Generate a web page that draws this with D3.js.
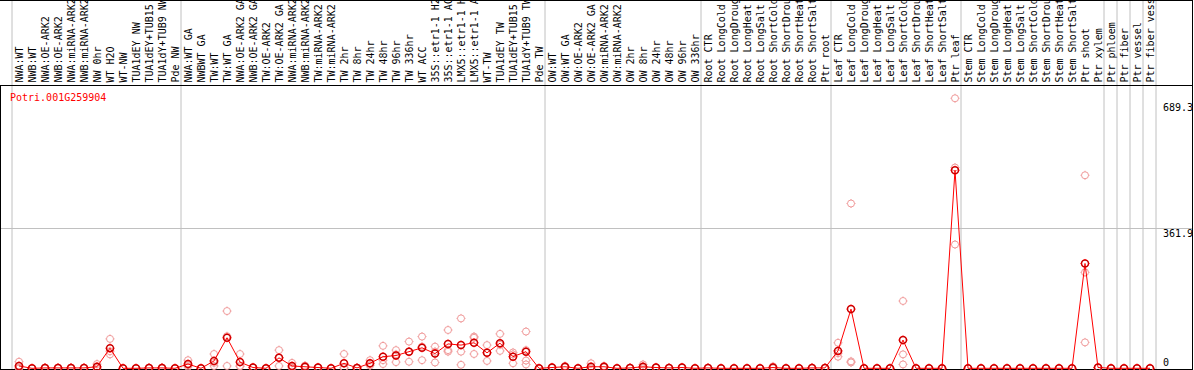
<!DOCTYPE html>
<html>
<head>
<meta charset="utf-8">
<script src="https://cdn.jsdelivr.net/npm/d3@7"></script>
<style>
  body { margin: 0; background: #fff; }
  svg { display: block; }
  text { font-family: "DejaVu Sans Mono", monospace; font-size: 10px; }
</style>
</head>
<body>
<svg id="chart"></svg>
<script>
var width = 1194;
var height = 370;

// sample names (as printed, cut to 14 chars)
var labels = [
  "NWA:WT", "NWB:WT", "NWA:OE-ARK2", "NWB:OE-ARK2", "NWA:miRNA-ARK2", "NWB:miRNA-ARK2",
  "NW 0hr", "WT H2O", "WT-NW", "TUA1dEY NW", "TUA1dEY+TUB15", "TUA1dY+TUB9 NW", "Pde NW",
  "NWA:WT GA", "NWBWT GA", "TW:WT", "TW:WT GA", "NWA:OE-ARK2 GA", "NWB:OE-ARK2 GA",
  "TW:OE-ARK2", "TW:OE-ARK2 GA", "NWA:miRNA-ARK2", "NWB:miRNA-ARK2", "TW:miRNA-ARK2", "TW:miRNA-ARK2",
  "TW 2hr", "TW 8hr", "TW 24hr", "TW 48hr", "TW 96hr", "TW 336hr", "WT ACC",
  "35S::etr1-1 H2", "35S::etr1-1 AC", "LMX5::etr1-1 H", "LMX5::etr1-1 A", "WT-TW",
  "TUA1dEY TW", "TUA1dEY+TUB15", "TUA1dY+TUB9 TW", "Pde TW",
  "OW:WT", "OW:WT GA", "OW:OE-ARK2", "OW:OE-ARK2 GA", "OW:miRNA-ARK2", "OW:miRNA-ARK2",
  "OW 2hr", "OW 8hr", "OW 24hr", "OW 48hr", "OW 96hr", "OW 336hr",
  "Root CTR", "Root LongCold", "Root LongDroug", "Root LongHeat", "Root LongSalt",
  "Root ShortCold", "Root ShortDrou", "Root ShortHeat", "Root ShortSalt", "Ptr root",
  "Leaf CTR", "Leaf LongCold", "Leaf LongDroug", "Leaf LongHeat", "Leaf LongSalt",
  "Leaf ShortCold", "Leaf ShortDrou", "Leaf ShortHeat", "Leaf ShortSalt", "Ptr leaf",
  "Stem CTR", "Stem LongCold", "Stem LongDroug", "Stem LongHeat", "Stem LongSalt",
  "Stem ShortCold", "Stem ShortDrou", "Stem ShortHeat", "Stem ShortSalt", "Ptr shoot",
  "Ptr xylem", "Ptr phloem", "Ptr fiber", "Ptr vessel", "Ptr fiber vess"
];

// index of first sample in each group (last entry = end)
var groupStarts = [0, 13, 41, 53, 63, 73, 84, 85, 86, 87, 88];

// mean expression per sample
var means = [
  6, 0, 1, 1, 1, 1, 4, 52, 0, 0, 1, 1, 0,
  11, 0, 19, 79, 16, 2, 0, 27, 6, 4, 2, 0, 13, 1, 13, 30, 33, 43, 53, 38, 63, 60, 66, 40, 65, 30, 43, 0,
  2, 4, 0, 4, 4, 0, 1, 4, 2, 1, 2, 0,
  1, 0, 0, 0, 0, 2, 0, 0, 1, 1,
  45, 153, 0, 0, 0, 73, 0, 0, 0, 512,
  0, 0, 0, 0, 0, 0, 0, 0, 0, 271, 2,
  0, 0, 0, 0
];

// replicate values per sample
var replicates = [
  [17, 1, 0], [0, 0, 0], [2, 1, 0], [1, 1, 1], [2, 1, 0], [1, 1, 1], [11, 1, 0],
  [76, 44, 36], [0, 0, 0], [0, 0, 0], [1, 1, 1], [2, 1, 0], [0, 0, 0],
  [21, 8, 4], [0, 0, 0], [37, 14, 6], [148, 83, 6], [37, 6, 5], [3, 2, 1], [0, 0, 0],
  [47, 28, 6], [14, 3, 1], [7, 3, 2], [3, 2, 1], [0, 0, 0], [37, 1, 1], [2, 1, 0],
  [21, 11, 7], [58, 21, 11], [47, 36, 16], [69, 43, 17], [82, 56, 21], [56, 43, 15],
  [99, 47, 43], [129, 43, 9], [82, 79, 37], [60, 41, 19], [89, 61, 45], [41, 36, 13],
  [95, 47, 20, 10], [0, 0, 0],
  [3, 2, 1], [6, 4, 2], [0, 0, 0], [13, 0, 0], [6, 4, 2], [0, 0, 0], [1, 1, 1],
  [10, 2, 0], [3, 2, 1], [1, 1, 1], [3, 2, 1], [0, 0, 0],
  [1, 1, 1], [0, 0, 0], [0, 0, 0], [0, 0, 0], [0, 0, 0], [5, 1, 0], [0, 0, 0],
  [0, 0, 0], [1, 1, 1], [1, 1, 1],
  [66, 39, 30], [426, 18, 15], [0, 0, 0], [0, 0, 0], [0, 0, 0], [174, 36, 10],
  [0, 0, 0], [0, 0, 0], [0, 0, 0], [698, 519, 320],
  [0, 0, 0], [0, 0, 0], [0, 0, 0], [0, 0, 0], [0, 0, 0], [0, 0, 0], [0, 0, 0],
  [0, 0, 0], [0, 0, 0], [499, 248, 67], [3, 2, 1],
  [0, 0, 0], [0, 0, 0], [0, 0, 0], [0, 0, 0]
];

var yTicks = [0, 361.9, 689.3];
var geneName = "Potri.001G259904";

var labelBottom = 85;

var x = d3.scaleBand()
  .domain(d3.range(labels.length))
  .range([12.5, 12.5 + 13 * labels.length])
  .padding(0);

var y = d3.scaleLinear()
  .domain([0, 361.9])
  .range([368.3, 228.3]);

var cx = function (i) { return x(i) + x.bandwidth() / 2; };

var svg = d3.select("#chart")
  .attr("width", width)
  .attr("height", height);

// gridline at middle tick
svg.append("line")
  .attr("x1", 0).attr("x2", 1192)
  .attr("y1", Math.round(y(361.9)) + 0.5).attr("y2", Math.round(y(361.9)) + 0.5)
  .attr("stroke", "#c0c0c0");

// group separators
var sepX = d => (d == labels.length ? x(d - 1) + x.bandwidth() : x(d)) - 0.5;
svg.selectAll(".sep")
  .data(groupStarts)
  .join("line")
  .attr("class", "sep")
  .attr("x1", sepX)
  .attr("x2", sepX)
  .attr("y1", 0).attr("y2", height)
  .attr("stroke", "#c0c0c0");

// rotated sample labels
svg.selectAll(".lab")
  .data(labels)
  .join("text")
  .attr("class", "lab")
  .attr("transform", (d, i) => "translate(" + (cx(i) + 4) + "," + (labelBottom - 2.5) + ") rotate(-90)")
  .attr("fill", "#000")
  .text(d => d);

// frame
svg.append("line").attr("x1", 0).attr("x2", 1193).attr("y1", 0.5).attr("y2", 0.5).attr("stroke", "#000");
svg.append("line").attr("x1", 0).attr("x2", 1193).attr("y1", labelBottom + 0.5).attr("y2", labelBottom + 0.5).attr("stroke", "#000");
svg.append("line").attr("x1", 0).attr("x2", 1193).attr("y1", 369.5).attr("y2", 369.5).attr("stroke", "#000");
svg.append("line").attr("x1", 0.5).attr("x2", 0.5).attr("y1", labelBottom).attr("y2", height).attr("stroke", "#000");
svg.append("line").attr("x1", 1192.5).attr("x2", 1192.5).attr("y1", 0).attr("y2", height).attr("stroke", "#000");

// gene title
svg.append("text")
  .attr("x", 10).attr("y", 101)
  .attr("fill", "#ff0000")
  .text(geneName);

// y tick labels on the right
svg.selectAll(".ytick")
  .data(yTicks)
  .join("text")
  .attr("class", "ytick")
  .attr("x", 1163)
  .attr("y", d => d == 0 ? y(d) - 2 : y(d) + 9)
  .attr("fill", "#000")
  .text(d => d == 0 ? "0" : d3.format(".1f")(d));

var tickPath = "M0,-4.5V-3.5M0,3.5V4.5M-4.5,0H-3.5M3.5,0H4.5";

// replicate markers
var reps = [];
replicates.forEach((r, i) => r.forEach(v => reps.push({i: i, v: v})));

var repG = svg.selectAll(".rep")
  .data(reps)
  .join("g")
  .attr("class", "rep")
  .attr("transform", d => "translate(" + cx(d.i) + "," + y(d.v) + ")");
repG.append("circle").attr("r", 3.5).attr("fill", "none").attr("stroke", "#f09a9a").attr("stroke-width", 1);
repG.append("path").attr("d", tickPath).attr("stroke", "#f09a9a").attr("stroke-width", 1);

// mean line
var line = d3.line()
  .x((d, i) => cx(i))
  .y(d => y(d));

svg.append("path")
  .datum(means)
  .attr("d", line)
  .attr("fill", "none")
  .attr("stroke", "#ff0000")
  .attr("stroke-width", 1);

// mean markers
var meanG = svg.selectAll(".mean")
  .data(means)
  .join("g")
  .attr("class", "mean")
  .attr("transform", (d, i) => "translate(" + cx(i) + "," + y(d) + ")");
meanG.append("circle").attr("r", 3.5).attr("fill", "none").attr("stroke", "#ff0000").attr("stroke-width", 1.5);
meanG.append("circle").attr("r", 3.5).attr("fill", "none").attr("stroke", "#000").attr("stroke-width", 0.5).attr("stroke-opacity", 0.6);
meanG.append("path").attr("d", tickPath).attr("stroke", "#ff0000").attr("stroke-width", 1);
</script>
</body>
</html>
